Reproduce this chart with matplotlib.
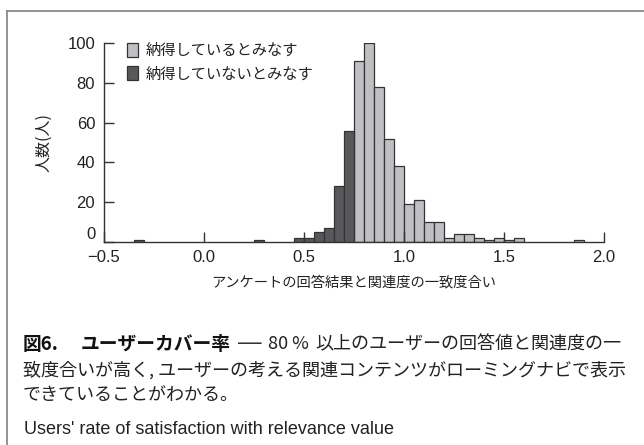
import matplotlib
matplotlib.use("Agg")
import matplotlib.pyplot as plt
from matplotlib.lines import Line2D

# ---- data ----
bin_width = 0.05
unsat_left = [-0.35, 0.25, 0.45, 0.50, 0.55, 0.60, 0.65, 0.70]
unsat_count = [1, 1, 2, 2, 5, 7, 28, 56]
sat_left = [0.75, 0.80, 0.85, 0.90, 0.95, 1.00, 1.05, 1.10, 1.15, 1.20,
            1.25, 1.30, 1.35, 1.40, 1.45, 1.50, 1.55, 1.85]
sat_count = [91, 100, 78, 52, 38, 19, 21, 10, 10, 2,
             4, 4, 2, 1, 2, 1, 2, 1]
label_sat = "納得しているとみなす"
label_unsat = "納得していないとみなす"
xticks = [-0.5, 0.0, 0.5, 1.0, 1.5, 2.0]
xticklabels = ["\u22120.5", "0.0", "0.5", "1.0", "1.5", "2.0"]
yticks = [0, 20, 40, 60, 80, 100]
xlabel = "アンケートの回答結果と関連度の一致度合い"
ylabel = "人数(人)"
cap_fig = "図6."
cap_title = "ユーザーカバー率"
cap_dash = "\u2014"
cap_pct = "80 %"
cap_rest1 = "以上のユーザーの回答値と関連度の一"
cap_line2 = "致度合いが高く, ユーザーの考える関連コンテンツがローミングナビで表示"
cap_line3 = "できていることがわかる。"
cap_en = "Users' rate of satisfaction with relevance value"

CJK = ["Noto Sans CJK JP", "DejaVu Sans"]
LAT = ["Liberation Sans", "DejaVu Sans"]

W, H = 644, 445
fig = plt.figure(figsize=(W / 100, H / 100), dpi=100)
fig.patch.set_facecolor("white")

ax = fig.add_axes([103.5 / W, 1 - 241.7 / H, (604 - 103.5) / W, (241.7 - 43.3) / H])
edge = "#333333"
light = "#c0c0c4"
dark = "#58585a"
b1 = ax.bar(sat_left, sat_count, width=bin_width, align="edge",
            color=light, edgecolor=edge, linewidth=0.9, label=label_sat)
b2 = ax.bar(unsat_left, unsat_count, width=bin_width, align="edge",
            color=dark, edgecolor=edge, linewidth=0.9, label=label_unsat)

ax.set_xlim(-0.5, 2.0)
ax.set_ylim(0, 100)
for s in ["top", "right"]:
    ax.spines[s].set_visible(False)
for s in ["left", "bottom"]:
    ax.spines[s].set_color(edge)
    ax.spines[s].set_linewidth(1.0)
ax.set_xticks(xticks)
ax.set_xticklabels(xticklabels)
ax.set_yticks(yticks)
ax.tick_params(direction="in", length=7, width=1.0, color=edge,
               labelsize=12, labelcolor="#222222", pad=6)
for t in ax.get_xticklabels() + ax.get_yticklabels():
    t.set_fontfamily(LAT)
ax.tick_params(axis="x", pad=6)
ax.get_yticklabels()[0].set_va("bottom")

ax.set_xlabel(xlabel, fontsize=10.3, family=CJK, color="#222222")
ax.xaxis.set_label_coords(0.5, -0.17)
ax.set_ylabel(ylabel, fontsize=11.5, family=CJK, color="#222222")
ax.yaxis.set_label_coords(-0.102, 0.5)

leg = ax.legend(handles=[b1, b2], loc="upper left",
                bbox_to_anchor=(127 / W, 1 - 42 / H), bbox_transform=fig.transFigure,
                frameon=False, borderpad=0, borderaxespad=0,
                handlelength=0.72, handleheight=1.05, handletextpad=0.5,
                labelspacing=0.42, prop={"family": CJK, "size": 11})
for t in leg.get_texts():
    t.set_color("#222222")

# frame lines
fig.add_artist(Line2D([6.5 / W, 1.0], [1 - 10.5 / H, 1 - 10.5 / H],
                      transform=fig.transFigure, color="#8a8a8a", lw=1.3))
fig.add_artist(Line2D([6.5 / W, 6.5 / W], [1 - 10.5 / H, 0.0],
                      transform=fig.transFigure, color="#8a8a8a", lw=1.3))

# caption
fs = 13
def ftext(xpx, ypx, s, **kw):
    return fig.text(xpx / W, 1 - ypx / H, s, va="center", ha="left", **kw)

y1 = 344
ftext(23, y1, cap_fig, family=CJK, fontsize=13.5, weight="bold", color="#111111")
ftext(81, y1, cap_title, family=CJK, fontsize=13.5, weight="bold", color="#111111")
ftext(238, y1 - 1, cap_dash, family=LAT, fontsize=17, color="#333333")
ftext(268, y1, cap_pct, family=CJK, fontsize=fs, color="#222222")
ftext(315, y1, cap_rest1, family=CJK, fontsize=fs, color="#222222")
ftext(23, 370, cap_line2, family=CJK, fontsize=fs, color="#222222")
ftext(23, 395, cap_line3, family=CJK, fontsize=fs, color="#222222")
ftext(24, 430, cap_en, family=LAT, fontsize=13, color="#222222")

fig.savefig("out.png", dpi=100, facecolor="white")
